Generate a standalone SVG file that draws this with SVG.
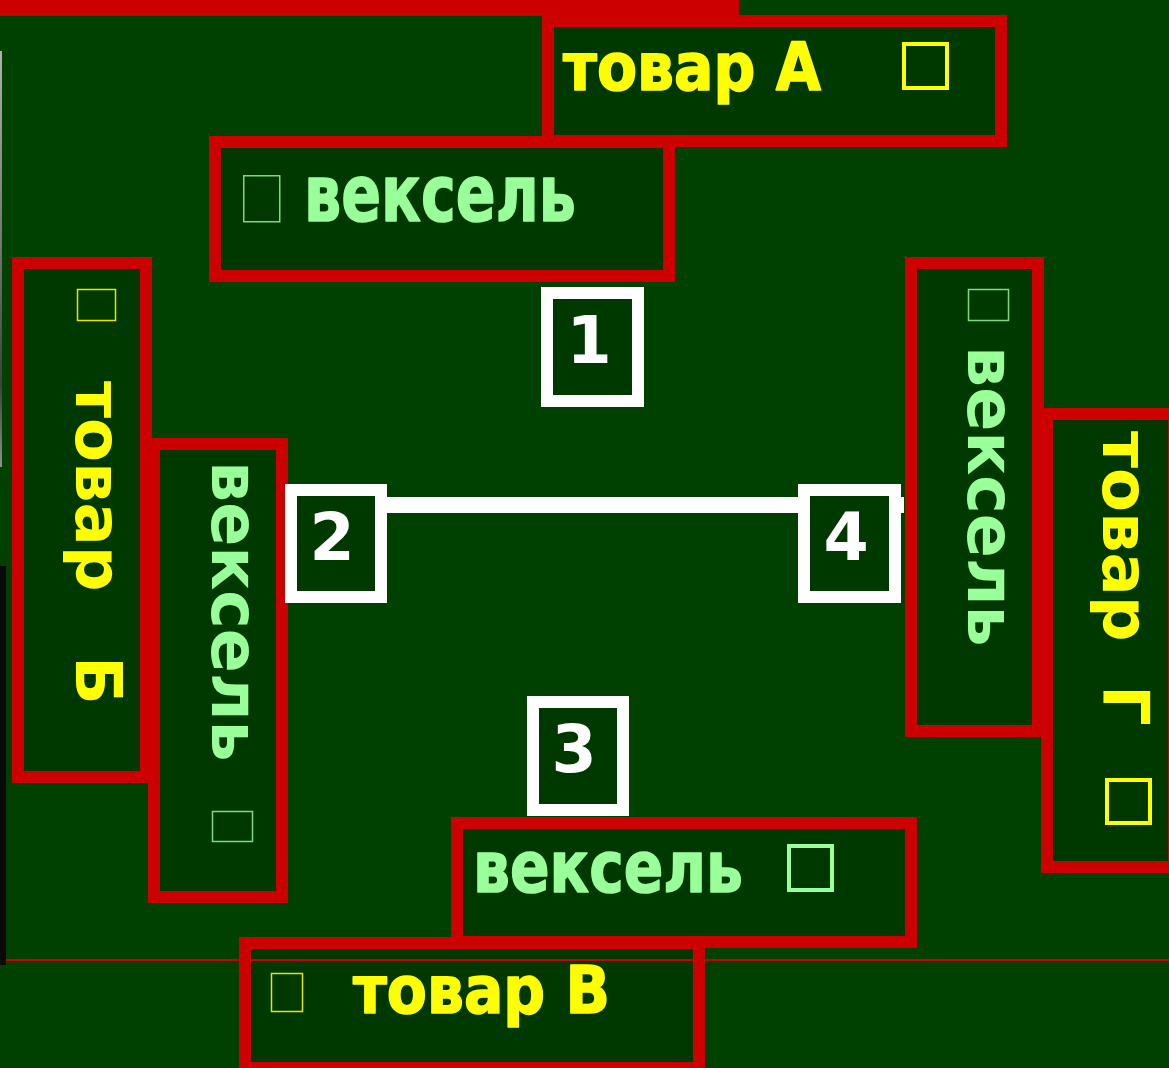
<svg xmlns="http://www.w3.org/2000/svg" width="1169" height="1068" viewBox="0 0 1169 1068">
<defs>
<linearGradient id="grey" x1="0" y1="0" x2="0" y2="1">
<stop offset="0" stop-color="#b0b0b0"/><stop offset="0.5" stop-color="#707070"/><stop offset="0.8" stop-color="#404040"/><stop offset="1" stop-color="#909090"/>
</linearGradient>
</defs>
<style>
.box{fill:#003900;stroke:#cc0000;stroke-width:12}
.num{fill:#003900;stroke:#ffffff;stroke-width:12}
.t{font-family:"DejaVu Sans",Verdana,sans-serif;font-weight:bold}
.y{fill:#ffff00}
.g{fill:#99ff99}
.hy{stroke:#ffff00;stroke-width:1.6;stroke-linejoin:round}
.hg{stroke:#99ff99;stroke-width:1.6;stroke-linejoin:round}
.w{fill:#ffffff;font-size:65px;text-anchor:middle}
.tofuY{fill:none;stroke:#e6e600;stroke-width:1.5}
.tofuG{fill:none;stroke:#80d880;stroke-width:1.5}
.sqY{fill:none;stroke:#ffff00;stroke-width:4}
.sqG{fill:none;stroke:#99ff99;stroke-width:4}
</style>
<rect x="0" y="0" width="1169" height="1068" fill="#004000"/>
<rect x="0" y="0" width="739" height="16" fill="#cc0000"/>
<rect x="0" y="51" width="2" height="416" fill="url(#grey)"/>
<rect x="0" y="566" width="6" height="399" fill="#0a0a0a"/>

<g id="connectors">
<rect x="380" y="497" width="524" height="16" fill="#ffffff"/>
</g>

<g id="node-tovar-a">
<rect class="box" x="548" y="21" width="453" height="120"/>
<text class="t y hy" x="563" y="90" font-size="65" textLength="258" lengthAdjust="spacingAndGlyphs">товар А</text>
<rect class="sqY" x="904" y="44" width="43" height="44"/>
</g>

<g id="node-veksel-top">
<rect class="box" x="215" y="142" width="454" height="134"/>
<rect class="tofuG" x="243.75" y="175.75" width="36" height="46"/>
<text class="t g hg" x="304" y="221" font-size="78" textLength="272" lengthAdjust="spacingAndGlyphs">вексель</text>
</g>

<g id="node-tovar-b">
<rect class="box" x="18" y="263" width="128" height="514"/>
<rect class="tofuY" x="77.5" y="289.5" width="38" height="31"/>
<text class="t y" font-size="64" transform="translate(76,0) rotate(90)" x="381" y="0">товар <tspan x="656">Б</tspan></text>
</g>

<g id="node-veksel-left">
<rect class="box" x="154" y="444" width="128" height="453"/>
<text class="t g" font-size="65" transform="translate(212,0) rotate(90)" x="461" y="0">вексель</text>
<rect class="tofuG" x="212.5" y="811.5" width="40" height="30"/>
</g>

<g id="node-veksel-right">
<rect class="box" x="911" y="263" width="127" height="468"/>
<rect class="tofuG" x="968.5" y="289.5" width="40" height="31"/>
<text class="t g" font-size="65" transform="translate(968,0) rotate(90)" x="346" y="0">вексель</text>
</g>

<g id="node-tovar-g">
<rect class="box" x="1047" y="414" width="127" height="453"/>
<text class="t y" font-size="64" transform="translate(1103,0) rotate(90)" x="431" y="0">товар <tspan x="685">Г</tspan></text>
<rect class="sqY" x="1107" y="780" width="43" height="43"/>
</g>

<g id="node-veksel-bottom">
<rect class="box" x="457" y="823" width="454" height="119"/>
<text class="t g hg" x="473" y="892" font-size="71" textLength="270" lengthAdjust="spacingAndGlyphs">вексель</text>
<rect class="sqG" x="789" y="846" width="43" height="44"/>
</g>

<g id="node-tovar-v">
<rect class="box" x="245" y="943" width="454" height="125"/>
<rect class="tofuY" x="271.5" y="973.5" width="31" height="38"/>
<text class="t y hy" x="353" y="1013" font-size="65" textLength="257" lengthAdjust="spacingAndGlyphs">товар В</text>
</g>

<rect x="6" y="959" width="1163" height="2" fill="#cc0000"/>

<g id="node-1">
<rect class="num" x="547" y="293" width="91" height="108"/>
<text class="t w" x="589" y="363">1</text>
</g>
<g id="node-2">
<rect class="num" x="291" y="490" width="90" height="107"/>
<text class="t w" x="332" y="560">2</text>
</g>
<g id="node-3">
<rect class="num" x="533" y="702" width="90" height="108"/>
<text class="t w" x="574" y="772">3</text>
</g>
<g id="node-4">
<rect class="num" x="804" y="490" width="91" height="107"/>
<text class="t w" x="846" y="560">4</text>
</g>
</svg>
